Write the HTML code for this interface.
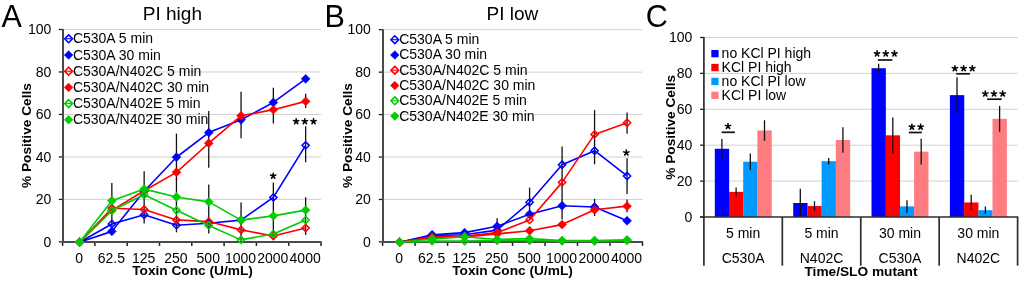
<!DOCTYPE html><html><head><meta charset="utf-8"><style>html,body{margin:0;padding:0;background:#fff;overflow:hidden;width:1024px;height:284px;}svg{display:block;will-change:transform;}text{font-family:"Liberation Sans", sans-serif;}</style></head><body>
<svg width="1024" height="284" viewBox="0 0 1024 284">
<rect x="0" y="0" width="1024" height="284" fill="#fff"/>
<line x1="62.6" y1="199.42" x2="321" y2="199.42" stroke="#d0d0d0" stroke-width="1" />
<line x1="62.6" y1="156.94" x2="321" y2="156.94" stroke="#d0d0d0" stroke-width="1" />
<line x1="62.6" y1="114.46" x2="321" y2="114.46" stroke="#d0d0d0" stroke-width="1" />
<line x1="62.6" y1="71.98" x2="321" y2="71.98" stroke="#d0d0d0" stroke-width="1" />
<line x1="62.6" y1="29.5" x2="321" y2="29.5" stroke="#d0d0d0" stroke-width="1" />
<text x="51.3" y="246.6" font-size="14" text-anchor="end" font-weight="normal" fill="#000" >0</text>
<line x1="58.8" y1="241.9" x2="62.6" y2="241.9" stroke="#1e1e1e" stroke-width="1.3" />
<text x="51.3" y="204.12" font-size="14" text-anchor="end" font-weight="normal" fill="#000" >20</text>
<line x1="58.8" y1="199.42" x2="62.6" y2="199.42" stroke="#1e1e1e" stroke-width="1.3" />
<text x="51.3" y="161.64" font-size="14" text-anchor="end" font-weight="normal" fill="#000" >40</text>
<line x1="58.8" y1="156.94" x2="62.6" y2="156.94" stroke="#1e1e1e" stroke-width="1.3" />
<text x="51.3" y="119.16" font-size="14" text-anchor="end" font-weight="normal" fill="#000" >60</text>
<line x1="58.8" y1="114.46" x2="62.6" y2="114.46" stroke="#1e1e1e" stroke-width="1.3" />
<text x="51.3" y="76.68" font-size="14" text-anchor="end" font-weight="normal" fill="#000" >80</text>
<line x1="58.8" y1="71.98" x2="62.6" y2="71.98" stroke="#1e1e1e" stroke-width="1.3" />
<text x="51.3" y="34.2" font-size="14" text-anchor="end" font-weight="normal" fill="#000" >100</text>
<line x1="58.8" y1="29.5" x2="62.6" y2="29.5" stroke="#1e1e1e" stroke-width="1.3" />
<text x="79.05" y="263" font-size="14" text-anchor="middle" font-weight="normal" fill="#000" >0</text>
<text x="111.35" y="263" font-size="14" text-anchor="middle" font-weight="normal" fill="#000" >62.5</text>
<text x="143.65" y="263" font-size="14" text-anchor="middle" font-weight="normal" fill="#000" >125</text>
<text x="175.95" y="263" font-size="14" text-anchor="middle" font-weight="normal" fill="#000" >250</text>
<text x="208.25" y="263" font-size="14" text-anchor="middle" font-weight="normal" fill="#000" >500</text>
<text x="240.55" y="263" font-size="14" text-anchor="middle" font-weight="normal" fill="#000" >1000</text>
<text x="272.85" y="263" font-size="14" text-anchor="middle" font-weight="normal" fill="#000" >2000</text>
<text x="305.15" y="263" font-size="14" text-anchor="middle" font-weight="normal" fill="#000" >4000</text>
<line x1="62.6" y1="241.9" x2="62.6" y2="245.9" stroke="#1e1e1e" stroke-width="1.5" />
<line x1="94.9" y1="241.9" x2="94.9" y2="245.9" stroke="#1e1e1e" stroke-width="1.5" />
<line x1="127.2" y1="241.9" x2="127.2" y2="245.9" stroke="#1e1e1e" stroke-width="1.5" />
<line x1="159.5" y1="241.9" x2="159.5" y2="245.9" stroke="#1e1e1e" stroke-width="1.5" />
<line x1="191.8" y1="241.9" x2="191.8" y2="245.9" stroke="#1e1e1e" stroke-width="1.5" />
<line x1="224.1" y1="241.9" x2="224.1" y2="245.9" stroke="#1e1e1e" stroke-width="1.5" />
<line x1="256.4" y1="241.9" x2="256.4" y2="245.9" stroke="#1e1e1e" stroke-width="1.5" />
<line x1="288.7" y1="241.9" x2="288.7" y2="245.9" stroke="#1e1e1e" stroke-width="1.5" />
<line x1="321" y1="241.9" x2="321" y2="245.9" stroke="#1e1e1e" stroke-width="1.5" />
<line x1="63" y1="29" x2="63" y2="242.9" stroke="#4a4a4a" stroke-width="2.0" />
<line x1="61.9" y1="241.9" x2="321.6" y2="241.9" stroke="#4a4a4a" stroke-width="2.0" />
<text x="192.5" y="275.2" font-size="13.7" text-anchor="middle" font-weight="bold" fill="#000" >Toxin Conc (U/mL)</text>
<text x="0" y="0" font-size="13.7" font-weight="bold" text-anchor="middle" fill="#000" transform="translate(31,135.6) rotate(-90)">% Positive Cells</text>
<text x="172.4" y="19.9" font-size="19.05" text-anchor="middle" font-weight="normal" fill="#000" >PI high</text>
<text x="1.5" y="26.8" font-size="30.5" text-anchor="start" font-weight="normal" fill="#000" >A</text>
<line x1="111.85" y1="183.07" x2="111.85" y2="226.61" stroke="#111" stroke-width="1.3" />
<line x1="144.15" y1="171.17" x2="144.15" y2="223.42" stroke="#111" stroke-width="1.3" />
<line x1="176.45" y1="133.58" x2="176.45" y2="180.3" stroke="#111" stroke-width="1.3" />
<line x1="176.45" y1="178.18" x2="176.45" y2="232.34" stroke="#111" stroke-width="1.3" />
<line x1="208.75" y1="111.06" x2="208.75" y2="167.77" stroke="#111" stroke-width="1.3" />
<line x1="208.75" y1="184.55" x2="208.75" y2="233.4" stroke="#111" stroke-width="1.3" />
<line x1="241.05" y1="91.73" x2="241.05" y2="138.25" stroke="#111" stroke-width="1.3" />
<line x1="241.05" y1="202.39" x2="241.05" y2="240.84" stroke="#111" stroke-width="1.3" />
<line x1="273.35" y1="87.7" x2="273.35" y2="123.38" stroke="#111" stroke-width="1.3" />
<line x1="273.35" y1="182.43" x2="273.35" y2="239.14" stroke="#111" stroke-width="1.3" />
<line x1="305.65" y1="93.86" x2="305.65" y2="108.09" stroke="#111" stroke-width="1.3" />
<line x1="305.65" y1="126.14" x2="305.65" y2="162.25" stroke="#111" stroke-width="1.3" />
<line x1="305.65" y1="197.3" x2="305.65" y2="235.1" stroke="#111" stroke-width="1.3" />
<polyline points="79.55,242.2 111.85,223.93 144.15,214.8 176.45,225.21 208.75,223.3 241.05,220.11 273.35,197.38 305.65,145.35" fill="none" stroke="#0000FF" stroke-width="1.6" stroke-linejoin="round"/>
<polygon points="79.55,238.6 83.15,242.2 79.55,245.8 75.95,242.2" fill="none" stroke="#0000FF" stroke-width="1.5"/>
<polygon points="111.85,220.33 115.45,223.93 111.85,227.53 108.25,223.93" fill="none" stroke="#0000FF" stroke-width="1.5"/>
<polygon points="144.15,211.2 147.75,214.8 144.15,218.4 140.55,214.8" fill="none" stroke="#0000FF" stroke-width="1.5"/>
<polygon points="176.45,221.61 180.05,225.21 176.45,228.81 172.85,225.21" fill="none" stroke="#0000FF" stroke-width="1.5"/>
<polygon points="208.75,219.7 212.35,223.3 208.75,226.9 205.15,223.3" fill="none" stroke="#0000FF" stroke-width="1.5"/>
<polygon points="241.05,216.51 244.65,220.11 241.05,223.71 237.45,220.11" fill="none" stroke="#0000FF" stroke-width="1.5"/>
<polygon points="273.35,193.78 276.95,197.38 273.35,200.98 269.75,197.38" fill="none" stroke="#0000FF" stroke-width="1.5"/>
<polygon points="305.65,141.75 309.25,145.35 305.65,148.95 302.05,145.35" fill="none" stroke="#0000FF" stroke-width="1.5"/>
<polyline points="79.55,242.2 111.85,231.37 144.15,191.22 176.45,157.24 208.75,132.6 241.05,119.86 273.35,102.44 305.65,78.86" fill="none" stroke="#0000FF" stroke-width="1.6" stroke-linejoin="round"/>
<polygon points="79.55,237.75 84,242.2 79.55,246.65 75.1,242.2" fill="#0000FF" stroke="#0000FF" stroke-width="0.6"/>
<polygon points="111.85,226.92 116.3,231.37 111.85,235.82 107.4,231.37" fill="#0000FF" stroke="#0000FF" stroke-width="0.6"/>
<polygon points="144.15,186.77 148.6,191.22 144.15,195.67 139.7,191.22" fill="#0000FF" stroke="#0000FF" stroke-width="0.6"/>
<polygon points="176.45,152.79 180.9,157.24 176.45,161.69 172,157.24" fill="#0000FF" stroke="#0000FF" stroke-width="0.6"/>
<polygon points="208.75,128.15 213.2,132.6 208.75,137.05 204.3,132.6" fill="#0000FF" stroke="#0000FF" stroke-width="0.6"/>
<polygon points="241.05,115.41 245.5,119.86 241.05,124.31 236.6,119.86" fill="#0000FF" stroke="#0000FF" stroke-width="0.6"/>
<polygon points="273.35,97.99 277.8,102.44 273.35,106.89 268.9,102.44" fill="#0000FF" stroke="#0000FF" stroke-width="0.6"/>
<polygon points="305.65,74.41 310.1,78.86 305.65,83.31 301.2,78.86" fill="#0000FF" stroke="#0000FF" stroke-width="0.6"/>
<polyline points="79.55,242.2 111.85,208.22 144.15,209.49 176.45,219.9 208.75,221.6 241.05,229.88 273.35,236.04 305.65,227.97" fill="none" stroke="#FF0000" stroke-width="1.6" stroke-linejoin="round"/>
<polygon points="79.55,238.6 83.15,242.2 79.55,245.8 75.95,242.2" fill="none" stroke="#FF0000" stroke-width="1.5"/>
<polygon points="111.85,204.62 115.45,208.22 111.85,211.82 108.25,208.22" fill="none" stroke="#FF0000" stroke-width="1.5"/>
<polygon points="144.15,205.89 147.75,209.49 144.15,213.09 140.55,209.49" fill="none" stroke="#FF0000" stroke-width="1.5"/>
<polygon points="176.45,216.3 180.05,219.9 176.45,223.5 172.85,219.9" fill="none" stroke="#FF0000" stroke-width="1.5"/>
<polygon points="208.75,218 212.35,221.6 208.75,225.2 205.15,221.6" fill="none" stroke="#FF0000" stroke-width="1.5"/>
<polygon points="241.05,226.28 244.65,229.88 241.05,233.48 237.45,229.88" fill="none" stroke="#FF0000" stroke-width="1.5"/>
<polygon points="273.35,232.44 276.95,236.04 273.35,239.64 269.75,236.04" fill="none" stroke="#FF0000" stroke-width="1.5"/>
<polygon points="305.65,224.37 309.25,227.97 305.65,231.57 302.05,227.97" fill="none" stroke="#FF0000" stroke-width="1.5"/>
<polyline points="79.55,242.2 111.85,210.34 144.15,190.8 176.45,172.32 208.75,143.22 241.05,115.82 273.35,109.66 305.65,101.38" fill="none" stroke="#FF0000" stroke-width="1.6" stroke-linejoin="round"/>
<polygon points="79.55,237.75 84,242.2 79.55,246.65 75.1,242.2" fill="#FF0000" stroke="#FF0000" stroke-width="0.6"/>
<polygon points="111.85,205.89 116.3,210.34 111.85,214.79 107.4,210.34" fill="#FF0000" stroke="#FF0000" stroke-width="0.6"/>
<polygon points="144.15,186.35 148.6,190.8 144.15,195.25 139.7,190.8" fill="#FF0000" stroke="#FF0000" stroke-width="0.6"/>
<polygon points="176.45,167.87 180.9,172.32 176.45,176.77 172,172.32" fill="#FF0000" stroke="#FF0000" stroke-width="0.6"/>
<polygon points="208.75,138.77 213.2,143.22 208.75,147.67 204.3,143.22" fill="#FF0000" stroke="#FF0000" stroke-width="0.6"/>
<polygon points="241.05,111.37 245.5,115.82 241.05,120.27 236.6,115.82" fill="#FF0000" stroke="#FF0000" stroke-width="0.6"/>
<polygon points="273.35,105.21 277.8,109.66 273.35,114.11 268.9,109.66" fill="#FF0000" stroke="#FF0000" stroke-width="0.6"/>
<polygon points="305.65,96.93 310.1,101.38 305.65,105.83 301.2,101.38" fill="#FF0000" stroke="#FF0000" stroke-width="0.6"/>
<polyline points="79.55,242.2 111.85,210.55 144.15,194.83 176.45,210.34 208.75,225.42 241.05,239.86 273.35,233.92 305.65,220.11" fill="none" stroke="#00CC00" stroke-width="1.6" stroke-linejoin="round"/>
<polygon points="79.55,238.6 83.15,242.2 79.55,245.8 75.95,242.2" fill="none" stroke="#00CC00" stroke-width="1.5"/>
<polygon points="111.85,206.95 115.45,210.55 111.85,214.15 108.25,210.55" fill="none" stroke="#00CC00" stroke-width="1.5"/>
<polygon points="144.15,191.23 147.75,194.83 144.15,198.43 140.55,194.83" fill="none" stroke="#00CC00" stroke-width="1.5"/>
<polygon points="176.45,206.74 180.05,210.34 176.45,213.94 172.85,210.34" fill="none" stroke="#00CC00" stroke-width="1.5"/>
<polygon points="208.75,221.82 212.35,225.42 208.75,229.02 205.15,225.42" fill="none" stroke="#00CC00" stroke-width="1.5"/>
<polygon points="241.05,236.26 244.65,239.86 241.05,243.46 237.45,239.86" fill="none" stroke="#00CC00" stroke-width="1.5"/>
<polygon points="273.35,230.32 276.95,233.92 273.35,237.52 269.75,233.92" fill="none" stroke="#00CC00" stroke-width="1.5"/>
<polygon points="305.65,216.51 309.25,220.11 305.65,223.71 302.05,220.11" fill="none" stroke="#00CC00" stroke-width="1.5"/>
<polyline points="79.55,242.2 111.85,200.78 144.15,189.1 176.45,196.96 208.75,201.84 241.05,220.11 273.35,215.86 305.65,210.13" fill="none" stroke="#00CC00" stroke-width="1.6" stroke-linejoin="round"/>
<polygon points="79.55,237.75 84,242.2 79.55,246.65 75.1,242.2" fill="#00CC00" stroke="#00CC00" stroke-width="0.6"/>
<polygon points="111.85,196.33 116.3,200.78 111.85,205.23 107.4,200.78" fill="#00CC00" stroke="#00CC00" stroke-width="0.6"/>
<polygon points="144.15,184.65 148.6,189.1 144.15,193.55 139.7,189.1" fill="#00CC00" stroke="#00CC00" stroke-width="0.6"/>
<polygon points="176.45,192.51 180.9,196.96 176.45,201.41 172,196.96" fill="#00CC00" stroke="#00CC00" stroke-width="0.6"/>
<polygon points="208.75,197.39 213.2,201.84 208.75,206.29 204.3,201.84" fill="#00CC00" stroke="#00CC00" stroke-width="0.6"/>
<polygon points="241.05,215.66 245.5,220.11 241.05,224.56 236.6,220.11" fill="#00CC00" stroke="#00CC00" stroke-width="0.6"/>
<polygon points="273.35,211.41 277.8,215.86 273.35,220.31 268.9,215.86" fill="#00CC00" stroke="#00CC00" stroke-width="0.6"/>
<polygon points="305.65,205.68 310.1,210.13 305.65,214.58 301.2,210.13" fill="#00CC00" stroke="#00CC00" stroke-width="0.6"/>
<path d="M273.2,175.95L273.2,173.15M273.2,175.95L275.86,175.08M273.2,175.95L274.85,178.22M273.2,175.95L271.55,178.22M273.2,175.95L270.54,175.08" stroke="#000" stroke-width="1.55" stroke-linecap="round" fill="none"/>
<path d="M296.15,121.45L296.15,118.65M296.15,121.45L298.81,120.58M296.15,121.45L297.8,123.72M296.15,121.45L294.5,123.72M296.15,121.45L293.49,120.58" stroke="#000" stroke-width="1.55" stroke-linecap="round" fill="none"/>
<path d="M304.85,121.45L304.85,118.65M304.85,121.45L307.51,120.58M304.85,121.45L306.5,123.72M304.85,121.45L303.2,123.72M304.85,121.45L302.19,120.58" stroke="#000" stroke-width="1.55" stroke-linecap="round" fill="none"/>
<path d="M313.55,121.45L313.55,118.65M313.55,121.45L316.21,120.58M313.55,121.45L315.2,123.72M313.55,121.45L311.9,123.72M313.55,121.45L310.89,120.58" stroke="#000" stroke-width="1.55" stroke-linecap="round" fill="none"/>
<polygon points="68.6,34.9 72.5,38.8 68.6,42.7 64.7,38.8" fill="none" stroke="#0000FF" stroke-width="1.6"/>
<line x1="65.6" y1="38.8" x2="71.6" y2="38.8" stroke="#0000FF" stroke-width="1.1" />
<text x="72.9" y="43.3" font-size="14" text-anchor="start" font-weight="normal" fill="#000" >C530A 5 min</text>
<polygon points="68.6,50.7 72.9,55 68.6,59.3 64.3,55" fill="#0000FF" stroke="#0000FF" stroke-width="0.6"/>
<text x="72.9" y="59.5" font-size="14" text-anchor="start" font-weight="normal" fill="#000" >C530A 30 min</text>
<polygon points="68.6,67.3 72.5,71.2 68.6,75.1 64.7,71.2" fill="none" stroke="#FF0000" stroke-width="1.6"/>
<line x1="65.6" y1="71.2" x2="71.6" y2="71.2" stroke="#FF0000" stroke-width="1.1" />
<text x="72.9" y="75.7" font-size="14" text-anchor="start" font-weight="normal" fill="#000" >C530A/N402C 5 min</text>
<polygon points="68.6,83.1 72.9,87.4 68.6,91.7 64.3,87.4" fill="#FF0000" stroke="#FF0000" stroke-width="0.6"/>
<text x="72.9" y="91.9" font-size="14" text-anchor="start" font-weight="normal" fill="#000" >C530A/N402C 30 min</text>
<polygon points="68.6,99.7 72.5,103.6 68.6,107.5 64.7,103.6" fill="none" stroke="#00CC00" stroke-width="1.6"/>
<line x1="65.6" y1="103.6" x2="71.6" y2="103.6" stroke="#00CC00" stroke-width="1.1" />
<text x="72.9" y="108.1" font-size="14" text-anchor="start" font-weight="normal" fill="#000" >C530A/N402E 5 min</text>
<polygon points="68.6,115.5 72.9,119.8 68.6,124.1 64.3,119.8" fill="#00CC00" stroke="#00CC00" stroke-width="0.6"/>
<text x="72.9" y="124.3" font-size="14" text-anchor="start" font-weight="normal" fill="#000" >C530A/N402E 30 min</text>
<line x1="382.6" y1="199.46" x2="642.5" y2="199.46" stroke="#d0d0d0" stroke-width="1" />
<line x1="382.6" y1="157.02" x2="642.5" y2="157.02" stroke="#d0d0d0" stroke-width="1" />
<line x1="382.6" y1="114.58" x2="642.5" y2="114.58" stroke="#d0d0d0" stroke-width="1" />
<line x1="382.6" y1="72.14" x2="642.5" y2="72.14" stroke="#d0d0d0" stroke-width="1" />
<line x1="382.6" y1="29.7" x2="642.5" y2="29.7" stroke="#d0d0d0" stroke-width="1" />
<text x="370.8" y="246.6" font-size="14" text-anchor="end" font-weight="normal" fill="#000" >0</text>
<line x1="378.8" y1="241.9" x2="382.6" y2="241.9" stroke="#1e1e1e" stroke-width="1.3" />
<text x="370.8" y="204.16" font-size="14" text-anchor="end" font-weight="normal" fill="#000" >20</text>
<line x1="378.8" y1="199.46" x2="382.6" y2="199.46" stroke="#1e1e1e" stroke-width="1.3" />
<text x="370.8" y="161.72" font-size="14" text-anchor="end" font-weight="normal" fill="#000" >40</text>
<line x1="378.8" y1="157.02" x2="382.6" y2="157.02" stroke="#1e1e1e" stroke-width="1.3" />
<text x="370.8" y="119.28" font-size="14" text-anchor="end" font-weight="normal" fill="#000" >60</text>
<line x1="378.8" y1="114.58" x2="382.6" y2="114.58" stroke="#1e1e1e" stroke-width="1.3" />
<text x="370.8" y="76.84" font-size="14" text-anchor="end" font-weight="normal" fill="#000" >80</text>
<line x1="378.8" y1="72.14" x2="382.6" y2="72.14" stroke="#1e1e1e" stroke-width="1.3" />
<text x="370.8" y="34.4" font-size="14" text-anchor="end" font-weight="normal" fill="#000" >100</text>
<line x1="378.8" y1="29.7" x2="382.6" y2="29.7" stroke="#1e1e1e" stroke-width="1.3" />
<text x="399.14" y="263" font-size="14" text-anchor="middle" font-weight="normal" fill="#000" >0</text>
<text x="431.63" y="263" font-size="14" text-anchor="middle" font-weight="normal" fill="#000" >62.5</text>
<text x="464.12" y="263" font-size="14" text-anchor="middle" font-weight="normal" fill="#000" >125</text>
<text x="496.61" y="263" font-size="14" text-anchor="middle" font-weight="normal" fill="#000" >250</text>
<text x="529.09" y="263" font-size="14" text-anchor="middle" font-weight="normal" fill="#000" >500</text>
<text x="561.58" y="263" font-size="14" text-anchor="middle" font-weight="normal" fill="#000" >1000</text>
<text x="594.07" y="263" font-size="14" text-anchor="middle" font-weight="normal" fill="#000" >2000</text>
<text x="626.56" y="263" font-size="14" text-anchor="middle" font-weight="normal" fill="#000" >4000</text>
<line x1="382.6" y1="241.9" x2="382.6" y2="245.9" stroke="#1e1e1e" stroke-width="1.5" />
<line x1="415.09" y1="241.9" x2="415.09" y2="245.9" stroke="#1e1e1e" stroke-width="1.5" />
<line x1="447.58" y1="241.9" x2="447.58" y2="245.9" stroke="#1e1e1e" stroke-width="1.5" />
<line x1="480.06" y1="241.9" x2="480.06" y2="245.9" stroke="#1e1e1e" stroke-width="1.5" />
<line x1="512.55" y1="241.9" x2="512.55" y2="245.9" stroke="#1e1e1e" stroke-width="1.5" />
<line x1="545.04" y1="241.9" x2="545.04" y2="245.9" stroke="#1e1e1e" stroke-width="1.5" />
<line x1="577.52" y1="241.9" x2="577.52" y2="245.9" stroke="#1e1e1e" stroke-width="1.5" />
<line x1="610.01" y1="241.9" x2="610.01" y2="245.9" stroke="#1e1e1e" stroke-width="1.5" />
<line x1="642.5" y1="241.9" x2="642.5" y2="245.9" stroke="#1e1e1e" stroke-width="1.5" />
<line x1="383" y1="29.2" x2="383" y2="242.9" stroke="#4a4a4a" stroke-width="2.0" />
<line x1="381.9" y1="241.9" x2="643.1" y2="241.9" stroke="#4a4a4a" stroke-width="2.0" />
<text x="512.5" y="275.2" font-size="13.7" text-anchor="middle" font-weight="bold" fill="#000" >Toxin Conc (U/mL)</text>
<text x="0" y="0" font-size="13.7" font-weight="bold" text-anchor="middle" fill="#000" transform="translate(351.8,135.6) rotate(-90)">% Positive Cells</text>
<text x="512.4" y="19.9" font-size="19.05" text-anchor="middle" font-weight="normal" fill="#000" >PI low</text>
<text x="324.5" y="26.8" font-size="30.5" text-anchor="start" font-weight="normal" fill="#000" >B</text>
<line x1="497.11" y1="218.35" x2="497.11" y2="233.41" stroke="#111" stroke-width="1.3" />
<line x1="529.59" y1="187.58" x2="529.59" y2="216.44" stroke="#111" stroke-width="1.3" />
<line x1="562.08" y1="146.41" x2="562.08" y2="219.62" stroke="#111" stroke-width="1.3" />
<line x1="594.57" y1="110.12" x2="594.57" y2="164.23" stroke="#111" stroke-width="1.3" />
<line x1="594.57" y1="198.82" x2="594.57" y2="216.01" stroke="#111" stroke-width="1.3" />
<line x1="627.06" y1="112.46" x2="627.06" y2="133.68" stroke="#111" stroke-width="1.3" />
<line x1="627.06" y1="158.29" x2="627.06" y2="193.94" stroke="#111" stroke-width="1.3" />
<line x1="627.06" y1="199.46" x2="627.06" y2="212.19" stroke="#111" stroke-width="1.3" />
<polyline points="399.64,242.2 432.13,235.41 464.62,234.77 497.11,230.1 529.59,202.31 562.08,164.75 594.57,150.74 627.06,175.99" fill="none" stroke="#0000FF" stroke-width="1.6" stroke-linejoin="round"/>
<polygon points="399.64,238.6 403.24,242.2 399.64,245.8 396.04,242.2" fill="none" stroke="#0000FF" stroke-width="1.5"/>
<polygon points="432.13,231.81 435.73,235.41 432.13,239.01 428.53,235.41" fill="none" stroke="#0000FF" stroke-width="1.5"/>
<polygon points="464.62,231.17 468.22,234.77 464.62,238.37 461.02,234.77" fill="none" stroke="#0000FF" stroke-width="1.5"/>
<polygon points="497.11,226.5 500.71,230.1 497.11,233.7 493.51,230.1" fill="none" stroke="#0000FF" stroke-width="1.5"/>
<polygon points="529.59,198.71 533.19,202.31 529.59,205.91 525.99,202.31" fill="none" stroke="#0000FF" stroke-width="1.5"/>
<polygon points="562.08,161.15 565.68,164.75 562.08,168.35 558.48,164.75" fill="none" stroke="#0000FF" stroke-width="1.5"/>
<polygon points="594.57,147.14 598.17,150.74 594.57,154.34 590.97,150.74" fill="none" stroke="#0000FF" stroke-width="1.5"/>
<polygon points="627.06,172.39 630.66,175.99 627.06,179.59 623.46,175.99" fill="none" stroke="#0000FF" stroke-width="1.5"/>
<polyline points="399.64,242.2 432.13,234.77 464.62,232.65 497.11,226.29 529.59,214.19 562.08,205.7 594.57,206.97 627.06,220.77" fill="none" stroke="#0000FF" stroke-width="1.6" stroke-linejoin="round"/>
<polygon points="399.64,237.75 404.09,242.2 399.64,246.65 395.19,242.2" fill="#0000FF" stroke="#0000FF" stroke-width="0.6"/>
<polygon points="432.13,230.32 436.58,234.77 432.13,239.22 427.68,234.77" fill="#0000FF" stroke="#0000FF" stroke-width="0.6"/>
<polygon points="464.62,228.2 469.07,232.65 464.62,237.1 460.17,232.65" fill="#0000FF" stroke="#0000FF" stroke-width="0.6"/>
<polygon points="497.11,221.84 501.56,226.29 497.11,230.74 492.66,226.29" fill="#0000FF" stroke="#0000FF" stroke-width="0.6"/>
<polygon points="529.59,209.74 534.04,214.19 529.59,218.64 525.14,214.19" fill="#0000FF" stroke="#0000FF" stroke-width="0.6"/>
<polygon points="562.08,201.25 566.53,205.7 562.08,210.15 557.63,205.7" fill="#0000FF" stroke="#0000FF" stroke-width="0.6"/>
<polygon points="594.57,202.52 599.02,206.97 594.57,211.42 590.12,206.97" fill="#0000FF" stroke="#0000FF" stroke-width="0.6"/>
<polygon points="627.06,216.32 631.51,220.77 627.06,225.22 622.61,220.77" fill="#0000FF" stroke="#0000FF" stroke-width="0.6"/>
<polyline points="399.64,242.2 432.13,236.9 464.62,236.26 497.11,232.65 529.59,219.92 562.08,182.36 594.57,134.4 627.06,122.73" fill="none" stroke="#FF0000" stroke-width="1.6" stroke-linejoin="round"/>
<polygon points="399.64,238.6 403.24,242.2 399.64,245.8 396.04,242.2" fill="none" stroke="#FF0000" stroke-width="1.5"/>
<polygon points="432.13,233.3 435.73,236.9 432.13,240.5 428.53,236.9" fill="none" stroke="#FF0000" stroke-width="1.5"/>
<polygon points="464.62,232.66 468.22,236.26 464.62,239.86 461.02,236.26" fill="none" stroke="#FF0000" stroke-width="1.5"/>
<polygon points="497.11,229.05 500.71,232.65 497.11,236.25 493.51,232.65" fill="none" stroke="#FF0000" stroke-width="1.5"/>
<polygon points="529.59,216.32 533.19,219.92 529.59,223.52 525.99,219.92" fill="none" stroke="#FF0000" stroke-width="1.5"/>
<polygon points="562.08,178.76 565.68,182.36 562.08,185.96 558.48,182.36" fill="none" stroke="#FF0000" stroke-width="1.5"/>
<polygon points="594.57,130.8 598.17,134.4 594.57,138 590.97,134.4" fill="none" stroke="#FF0000" stroke-width="1.5"/>
<polygon points="627.06,119.13 630.66,122.73 627.06,126.33 623.46,122.73" fill="none" stroke="#FF0000" stroke-width="1.5"/>
<polyline points="399.64,242.2 432.13,237.96 464.62,236.9 497.11,233.92 529.59,230.74 562.08,224.59 594.57,209.73 627.06,206.13" fill="none" stroke="#FF0000" stroke-width="1.6" stroke-linejoin="round"/>
<polygon points="399.64,237.75 404.09,242.2 399.64,246.65 395.19,242.2" fill="#FF0000" stroke="#FF0000" stroke-width="0.6"/>
<polygon points="432.13,233.51 436.58,237.96 432.13,242.41 427.68,237.96" fill="#FF0000" stroke="#FF0000" stroke-width="0.6"/>
<polygon points="464.62,232.45 469.07,236.9 464.62,241.34 460.17,236.9" fill="#FF0000" stroke="#FF0000" stroke-width="0.6"/>
<polygon points="497.11,229.47 501.56,233.92 497.11,238.37 492.66,233.92" fill="#FF0000" stroke="#FF0000" stroke-width="0.6"/>
<polygon points="529.59,226.29 534.04,230.74 529.59,235.19 525.14,230.74" fill="#FF0000" stroke="#FF0000" stroke-width="0.6"/>
<polygon points="562.08,220.14 566.53,224.59 562.08,229.04 557.63,224.59" fill="#FF0000" stroke="#FF0000" stroke-width="0.6"/>
<polygon points="594.57,205.28 599.02,209.73 594.57,214.18 590.12,209.73" fill="#FF0000" stroke="#FF0000" stroke-width="0.6"/>
<polygon points="627.06,201.68 631.51,206.13 627.06,210.58 622.61,206.13" fill="#FF0000" stroke="#FF0000" stroke-width="0.6"/>
<polyline points="399.64,242.2 432.13,241.14 464.62,241.14 497.11,240.5 529.59,240.5 562.08,241.14 594.57,241.14 627.06,240.5" fill="none" stroke="#00CC00" stroke-width="1.6" stroke-linejoin="round"/>
<polygon points="399.64,238.6 403.24,242.2 399.64,245.8 396.04,242.2" fill="none" stroke="#00CC00" stroke-width="1.5"/>
<polygon points="432.13,237.54 435.73,241.14 432.13,244.74 428.53,241.14" fill="none" stroke="#00CC00" stroke-width="1.5"/>
<polygon points="464.62,237.54 468.22,241.14 464.62,244.74 461.02,241.14" fill="none" stroke="#00CC00" stroke-width="1.5"/>
<polygon points="497.11,236.9 500.71,240.5 497.11,244.1 493.51,240.5" fill="none" stroke="#00CC00" stroke-width="1.5"/>
<polygon points="529.59,236.9 533.19,240.5 529.59,244.1 525.99,240.5" fill="none" stroke="#00CC00" stroke-width="1.5"/>
<polygon points="562.08,237.54 565.68,241.14 562.08,244.74 558.48,241.14" fill="none" stroke="#00CC00" stroke-width="1.5"/>
<polygon points="594.57,237.54 598.17,241.14 594.57,244.74 590.97,241.14" fill="none" stroke="#00CC00" stroke-width="1.5"/>
<polygon points="627.06,236.9 630.66,240.5 627.06,244.1 623.46,240.5" fill="none" stroke="#00CC00" stroke-width="1.5"/>
<polyline points="399.64,242.2 432.13,239.02 464.62,236.68 497.11,239.44 529.59,238.59 562.08,240.5 594.57,240.5 627.06,239.87" fill="none" stroke="#00CC00" stroke-width="1.6" stroke-linejoin="round"/>
<polygon points="399.64,237.75 404.09,242.2 399.64,246.65 395.19,242.2" fill="#00CC00" stroke="#00CC00" stroke-width="0.6"/>
<polygon points="432.13,234.57 436.58,239.02 432.13,243.47 427.68,239.02" fill="#00CC00" stroke="#00CC00" stroke-width="0.6"/>
<polygon points="464.62,232.23 469.07,236.68 464.62,241.13 460.17,236.68" fill="#00CC00" stroke="#00CC00" stroke-width="0.6"/>
<polygon points="497.11,234.99 501.56,239.44 497.11,243.89 492.66,239.44" fill="#00CC00" stroke="#00CC00" stroke-width="0.6"/>
<polygon points="529.59,234.14 534.04,238.59 529.59,243.04 525.14,238.59" fill="#00CC00" stroke="#00CC00" stroke-width="0.6"/>
<polygon points="562.08,236.05 566.53,240.5 562.08,244.95 557.63,240.5" fill="#00CC00" stroke="#00CC00" stroke-width="0.6"/>
<polygon points="594.57,236.05 599.02,240.5 594.57,244.95 590.12,240.5" fill="#00CC00" stroke="#00CC00" stroke-width="0.6"/>
<polygon points="627.06,235.42 631.51,239.87 627.06,244.32 622.61,239.87" fill="#00CC00" stroke="#00CC00" stroke-width="0.6"/>
<path d="M626.35,152.75L626.35,149.95M626.35,152.75L629.01,151.88M626.35,152.75L628,155.02M626.35,152.75L624.7,155.02M626.35,152.75L623.69,151.88" stroke="#000" stroke-width="1.55" stroke-linecap="round" fill="none"/>
<polygon points="394.8,35.8 398.7,39.7 394.8,43.6 390.9,39.7" fill="none" stroke="#0000FF" stroke-width="1.6"/>
<line x1="391.8" y1="39.7" x2="397.8" y2="39.7" stroke="#0000FF" stroke-width="1.1" />
<text x="399.2" y="44.2" font-size="14" text-anchor="start" font-weight="normal" fill="#000" >C530A 5 min</text>
<polygon points="394.8,50.68 399.1,54.98 394.8,59.28 390.5,54.98" fill="#0000FF" stroke="#0000FF" stroke-width="0.6"/>
<text x="399.2" y="59.48" font-size="14" text-anchor="start" font-weight="normal" fill="#000" >C530A 30 min</text>
<polygon points="394.8,66.36 398.7,70.26 394.8,74.16 390.9,70.26" fill="none" stroke="#FF0000" stroke-width="1.6"/>
<line x1="391.8" y1="70.26" x2="397.8" y2="70.26" stroke="#FF0000" stroke-width="1.1" />
<text x="399.2" y="74.76" font-size="14" text-anchor="start" font-weight="normal" fill="#000" >C530A/N402C 5 min</text>
<polygon points="394.8,81.24 399.1,85.54 394.8,89.84 390.5,85.54" fill="#FF0000" stroke="#FF0000" stroke-width="0.6"/>
<text x="399.2" y="90.04" font-size="14" text-anchor="start" font-weight="normal" fill="#000" >C530A/N402C 30 min</text>
<polygon points="394.8,96.92 398.7,100.82 394.8,104.72 390.9,100.82" fill="none" stroke="#00CC00" stroke-width="1.6"/>
<line x1="391.8" y1="100.82" x2="397.8" y2="100.82" stroke="#00CC00" stroke-width="1.1" />
<text x="399.2" y="105.32" font-size="14" text-anchor="start" font-weight="normal" fill="#000" >C530A/N402E 5 min</text>
<polygon points="394.8,111.8 399.1,116.1 394.8,120.4 390.5,116.1" fill="#00CC00" stroke="#00CC00" stroke-width="0.6"/>
<text x="399.2" y="120.6" font-size="14" text-anchor="start" font-weight="normal" fill="#000" >C530A/N402E 30 min</text>
<line x1="703.9" y1="181.1" x2="1017.6" y2="181.1" stroke="#d0d0d0" stroke-width="1" />
<line x1="703.9" y1="145.2" x2="1017.6" y2="145.2" stroke="#d0d0d0" stroke-width="1" />
<line x1="703.9" y1="109.3" x2="1017.6" y2="109.3" stroke="#d0d0d0" stroke-width="1" />
<line x1="703.9" y1="73.4" x2="1017.6" y2="73.4" stroke="#d0d0d0" stroke-width="1" />
<line x1="703.9" y1="37.5" x2="1017.6" y2="37.5" stroke="#d0d0d0" stroke-width="1" />
<text x="692.3" y="221.7" font-size="14" text-anchor="end" font-weight="normal" fill="#000" >0</text>
<line x1="700.1" y1="217" x2="703.9" y2="217" stroke="#1e1e1e" stroke-width="1.3" />
<text x="692.3" y="185.8" font-size="14" text-anchor="end" font-weight="normal" fill="#000" >20</text>
<line x1="700.1" y1="181.1" x2="703.9" y2="181.1" stroke="#1e1e1e" stroke-width="1.3" />
<text x="692.3" y="149.9" font-size="14" text-anchor="end" font-weight="normal" fill="#000" >40</text>
<line x1="700.1" y1="145.2" x2="703.9" y2="145.2" stroke="#1e1e1e" stroke-width="1.3" />
<text x="692.3" y="114" font-size="14" text-anchor="end" font-weight="normal" fill="#000" >60</text>
<line x1="700.1" y1="109.3" x2="703.9" y2="109.3" stroke="#1e1e1e" stroke-width="1.3" />
<text x="692.3" y="78.1" font-size="14" text-anchor="end" font-weight="normal" fill="#000" >80</text>
<line x1="700.1" y1="73.4" x2="703.9" y2="73.4" stroke="#1e1e1e" stroke-width="1.3" />
<text x="692.3" y="42.2" font-size="14" text-anchor="end" font-weight="normal" fill="#000" >100</text>
<line x1="700.1" y1="37.5" x2="703.9" y2="37.5" stroke="#1e1e1e" stroke-width="1.3" />
<text x="645.8" y="27.4" font-size="30.5" text-anchor="start" font-weight="normal" fill="#000" >C</text>
<rect x="714.8" y="148.79" width="14.35" height="68.21" fill="#0000FF"/>
<rect x="729" y="191.87" width="14.35" height="25.13" fill="#FF0000"/>
<rect x="743.2" y="161.71" width="14.35" height="55.29" fill="#0099FF"/>
<rect x="757.4" y="130.48" width="14.35" height="86.52" fill="#FF7C80"/>
<rect x="793.2" y="203" width="14.35" height="14" fill="#0000FF"/>
<rect x="807.4" y="206.05" width="14.35" height="10.95" fill="#FF0000"/>
<rect x="821.6" y="161.18" width="14.35" height="55.82" fill="#0099FF"/>
<rect x="835.8" y="139.99" width="14.35" height="77.01" fill="#FF7C80"/>
<rect x="871.5" y="68.19" width="14.35" height="148.81" fill="#0000FF"/>
<rect x="885.7" y="135.33" width="14.35" height="81.67" fill="#FF0000"/>
<rect x="899.9" y="206.41" width="14.35" height="10.59" fill="#0099FF"/>
<rect x="914.1" y="151.66" width="14.35" height="65.34" fill="#FF7C80"/>
<rect x="949.9" y="95.12" width="14.35" height="121.88" fill="#0000FF"/>
<rect x="964.1" y="202.46" width="14.35" height="14.54" fill="#FF0000"/>
<rect x="978.3" y="210.18" width="14.35" height="6.82" fill="#0099FF"/>
<rect x="992.5" y="118.81" width="14.35" height="98.19" fill="#FF7C80"/>
<line x1="721.9" y1="138.92" x2="721.9" y2="158.66" stroke="#111" stroke-width="1.3" />
<line x1="736.1" y1="187.38" x2="736.1" y2="196.36" stroke="#111" stroke-width="1.3" />
<line x1="750.3" y1="153.46" x2="750.3" y2="169.97" stroke="#111" stroke-width="1.3" />
<line x1="764.5" y1="120.25" x2="764.5" y2="140.71" stroke="#111" stroke-width="1.3" />
<line x1="800.3" y1="188.64" x2="800.3" y2="217" stroke="#111" stroke-width="1.3" />
<line x1="814.5" y1="201.2" x2="814.5" y2="210.9" stroke="#111" stroke-width="1.3" />
<line x1="828.7" y1="157.94" x2="828.7" y2="164.41" stroke="#111" stroke-width="1.3" />
<line x1="842.9" y1="127.25" x2="842.9" y2="152.74" stroke="#111" stroke-width="1.3" />
<line x1="878.6" y1="63.71" x2="878.6" y2="72.68" stroke="#111" stroke-width="1.3" />
<line x1="892.8" y1="117.38" x2="892.8" y2="153.28" stroke="#111" stroke-width="1.3" />
<line x1="907" y1="200.13" x2="907" y2="212.69" stroke="#111" stroke-width="1.3" />
<line x1="921.2" y1="138.74" x2="921.2" y2="164.59" stroke="#111" stroke-width="1.3" />
<line x1="957" y1="77.17" x2="957" y2="113.07" stroke="#111" stroke-width="1.3" />
<line x1="971.2" y1="194.74" x2="971.2" y2="210.18" stroke="#111" stroke-width="1.3" />
<line x1="985.4" y1="206.41" x2="985.4" y2="213.95" stroke="#111" stroke-width="1.3" />
<line x1="999.6" y1="105.89" x2="999.6" y2="131.74" stroke="#111" stroke-width="1.3" />
<line x1="699.9" y1="217" x2="1018.3" y2="217" stroke="#2e2e2e" stroke-width="1.7" />
<line x1="703.9" y1="217" x2="703.9" y2="265.7" stroke="#2e2e2e" stroke-width="1.7" />
<line x1="782.33" y1="217" x2="782.33" y2="265.7" stroke="#2e2e2e" stroke-width="1.7" />
<line x1="860.75" y1="217" x2="860.75" y2="265.7" stroke="#2e2e2e" stroke-width="1.7" />
<line x1="939.17" y1="217" x2="939.17" y2="265.7" stroke="#2e2e2e" stroke-width="1.7" />
<line x1="1017.6" y1="217" x2="1017.6" y2="265.7" stroke="#2e2e2e" stroke-width="1.7" />
<line x1="703.9" y1="37" x2="703.9" y2="217" stroke="#2e2e2e" stroke-width="1.7" />
<text x="743.11" y="238.4" font-size="14" text-anchor="middle" font-weight="normal" fill="#000" >5 min</text>
<text x="743.11" y="263.3" font-size="14" text-anchor="middle" font-weight="normal" fill="#000" >C530A</text>
<text x="821.54" y="238.4" font-size="14" text-anchor="middle" font-weight="normal" fill="#000" >5 min</text>
<text x="821.54" y="263.3" font-size="14" text-anchor="middle" font-weight="normal" fill="#000" >N402C</text>
<text x="899.96" y="238.4" font-size="14" text-anchor="middle" font-weight="normal" fill="#000" >30 min</text>
<text x="899.96" y="263.3" font-size="14" text-anchor="middle" font-weight="normal" fill="#000" >C530A</text>
<text x="978.39" y="238.4" font-size="14" text-anchor="middle" font-weight="normal" fill="#000" >30 min</text>
<text x="978.39" y="263.3" font-size="14" text-anchor="middle" font-weight="normal" fill="#000" >N402C</text>
<text x="861" y="275.5" font-size="13.7" text-anchor="middle" font-weight="bold" fill="#000" >Time/SLO mutant</text>
<text x="0" y="0" font-size="13.7" font-weight="bold" text-anchor="middle" fill="#000" transform="translate(674.6,127.3) rotate(-90)">% Positive Cells</text>
<rect x="711.3" y="50" width="7.3" height="7.3" fill="#0000FF"/>
<text x="721.6" y="57.9" font-size="14" text-anchor="start" font-weight="normal" fill="#000" >no KCl PI high</text>
<rect x="711.3" y="63.9" width="7.3" height="7.3" fill="#FF0000"/>
<text x="721.6" y="71.8" font-size="14" text-anchor="start" font-weight="normal" fill="#000" >KCl PI high</text>
<rect x="711.3" y="77.8" width="7.3" height="7.3" fill="#0099FF"/>
<text x="721.6" y="85.7" font-size="14" text-anchor="start" font-weight="normal" fill="#000" >no KCl PI low</text>
<rect x="711.3" y="91.7" width="7.3" height="7.3" fill="#FF7C80"/>
<text x="721.6" y="99.6" font-size="14" text-anchor="start" font-weight="normal" fill="#000" >KCl PI low</text>
<path d="M728,126.25L728,123.45M728,126.25L730.66,125.38M728,126.25L729.65,128.52M728,126.25L726.35,128.52M728,126.25L725.34,125.38" stroke="#000" stroke-width="1.55" stroke-linecap="round" fill="none"/>
<line x1="721.6" y1="132.3" x2="734.9" y2="132.3" stroke="#111" stroke-width="1.7" />
<path d="M877.05,53.65L877.05,50.85M877.05,53.65L879.71,52.78M877.05,53.65L878.7,55.92M877.05,53.65L875.4,55.92M877.05,53.65L874.39,52.78" stroke="#000" stroke-width="1.55" stroke-linecap="round" fill="none"/>
<path d="M885.75,53.65L885.75,50.85M885.75,53.65L888.41,52.78M885.75,53.65L887.4,55.92M885.75,53.65L884.1,55.92M885.75,53.65L883.09,52.78" stroke="#000" stroke-width="1.55" stroke-linecap="round" fill="none"/>
<path d="M894.45,53.65L894.45,50.85M894.45,53.65L897.11,52.78M894.45,53.65L896.1,55.92M894.45,53.65L892.8,55.92M894.45,53.65L891.79,52.78" stroke="#000" stroke-width="1.55" stroke-linecap="round" fill="none"/>
<line x1="877.9" y1="60" x2="892.3" y2="60" stroke="#111" stroke-width="1.7" />
<path d="M911.9,126.95L911.9,124.15M911.9,126.95L914.56,126.08M911.9,126.95L913.55,129.22M911.9,126.95L910.25,129.22M911.9,126.95L909.24,126.08" stroke="#000" stroke-width="1.55" stroke-linecap="round" fill="none"/>
<path d="M920.6,126.95L920.6,124.15M920.6,126.95L923.26,126.08M920.6,126.95L922.25,129.22M920.6,126.95L918.95,129.22M920.6,126.95L917.94,126.08" stroke="#000" stroke-width="1.55" stroke-linecap="round" fill="none"/>
<line x1="908.8" y1="132.5" x2="921.9" y2="132.5" stroke="#111" stroke-width="1.7" />
<path d="M954.9,68.45L954.9,65.65M954.9,68.45L957.56,67.58M954.9,68.45L956.55,70.72M954.9,68.45L953.25,70.72M954.9,68.45L952.24,67.58" stroke="#000" stroke-width="1.55" stroke-linecap="round" fill="none"/>
<path d="M963.6,68.45L963.6,65.65M963.6,68.45L966.26,67.58M963.6,68.45L965.25,70.72M963.6,68.45L961.95,70.72M963.6,68.45L960.94,67.58" stroke="#000" stroke-width="1.55" stroke-linecap="round" fill="none"/>
<path d="M972.3,68.45L972.3,65.65M972.3,68.45L974.96,67.58M972.3,68.45L973.95,70.72M972.3,68.45L970.65,70.72M972.3,68.45L969.64,67.58" stroke="#000" stroke-width="1.55" stroke-linecap="round" fill="none"/>
<line x1="956.2" y1="73.8" x2="969.9" y2="73.8" stroke="#111" stroke-width="1.7" />
<path d="M985.3,93.75L985.3,90.95M985.3,93.75L987.96,92.88M985.3,93.75L986.95,96.02M985.3,93.75L983.65,96.02M985.3,93.75L982.64,92.88" stroke="#000" stroke-width="1.55" stroke-linecap="round" fill="none"/>
<path d="M994,93.75L994,90.95M994,93.75L996.66,92.88M994,93.75L995.65,96.02M994,93.75L992.35,96.02M994,93.75L991.34,92.88" stroke="#000" stroke-width="1.55" stroke-linecap="round" fill="none"/>
<path d="M1002.7,93.75L1002.7,90.95M1002.7,93.75L1005.36,92.88M1002.7,93.75L1004.35,96.02M1002.7,93.75L1001.05,96.02M1002.7,93.75L1000.04,92.88" stroke="#000" stroke-width="1.55" stroke-linecap="round" fill="none"/>
<line x1="987.2" y1="99.2" x2="1001.7" y2="99.2" stroke="#111" stroke-width="1.7" />
</svg></body></html>
